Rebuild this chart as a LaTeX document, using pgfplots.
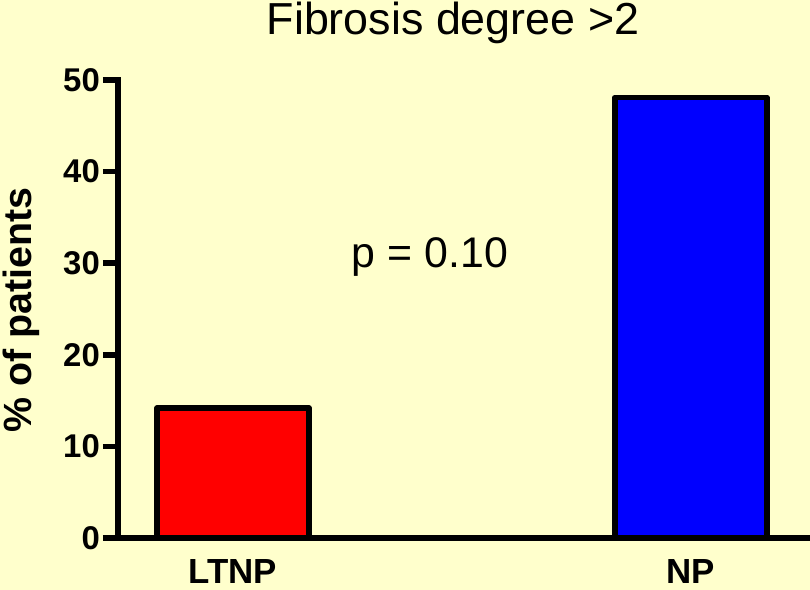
\documentclass[border=0pt]{standalone}
\usepackage{fontspec}
\setmainfont{Liberation Sans}
\usepackage{pgfplots}
\pgfplotsset{compat=1.18}
\definecolor{bgyellow}{RGB}{255,255,204}
\begin{document}
\begin{tikzpicture}
\fill[bgyellow] (-118bp,-52bp) rectangle (692bp,538bp);
\useasboundingbox (-118bp,-52bp) rectangle (692bp,538bp);
\begin{axis}[
  at={(0,0)}, anchor=south west,
  scale only axis,
  width=690bp, height=458bp,
  xmin=-0.251, xmax=1.2555,
  ymin=0, ymax=50,
  clip=false,
  axis x line=bottom, axis y line=left,
  axis line style={-, line width=5.5bp, line cap=rect},
  ytick={0,10,20,30,40,50},
  xtick={0,1},
  xticklabels={LTNP,NP},
  ytick align=outside,
  xtick align=inside,
  major tick length=15bp,
  ytick style={line width=5.5bp, black},
  xtick style={draw=none},
  /pgf/number format/assume math mode=true,
  yticklabel style={font=\fontsize{33}{37}\selectfont\bfseries, inner sep=0pt, xshift=-3bp},
  xticklabel style={font=\fontsize{35}{39}\selectfont\bfseries, inner sep=0pt, anchor=north, yshift=-6bp},
  ybar, bar width=0.332, bar shift=0pt,
]
\addplot[fill={rgb,255:red,255;green,0;blue,0}, draw=black, line width=5.5bp, line join=round] coordinates {(0,14.2)};
\addplot[fill={rgb,255:red,0;green,0;blue,255}, draw=black, line width=5.5bp, line join=round] coordinates {(1,48.1)};
\end{axis}
\node[anchor=base, font=\fontsize{45}{50}\selectfont] at (335bp,503bp) {Fibrosis degree >2};
\node[anchor=base, font=\fontsize{43}{48}\selectfont] at (312bp,270bp) {p = 0.10};
\node[anchor=base, rotate=90, font=\fontsize{39.5}{44}\selectfont\bfseries] at (-86bp,228bp) {\% of patients};
\end{tikzpicture}
\end{document}
